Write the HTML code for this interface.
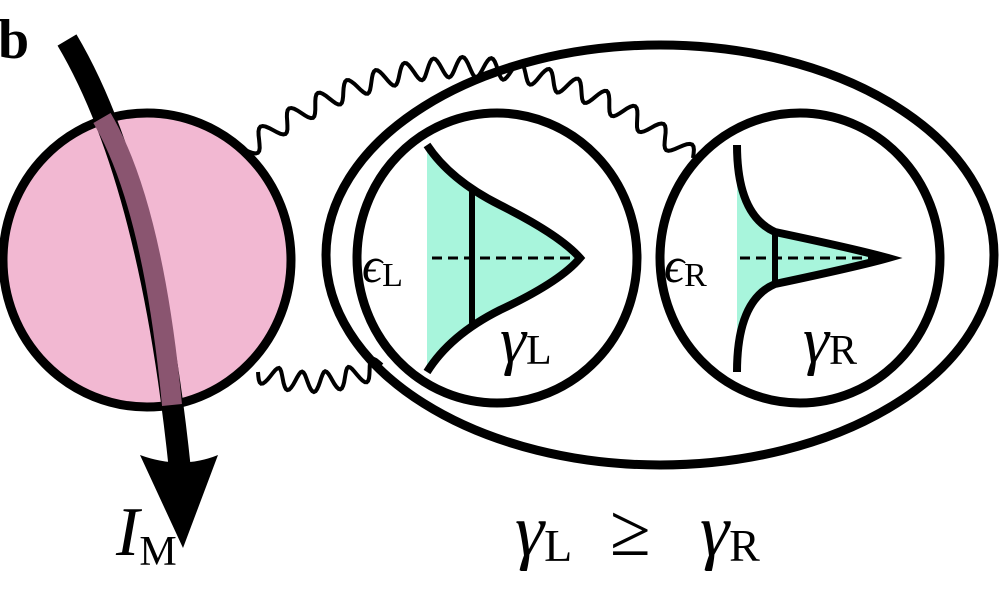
<!DOCTYPE html>
<html><head><style>body{margin:0;background:#fff}svg{display:block}</style></head><body>
<svg id="s" width="1000" height="600" viewBox="0 0 1000 600" xmlns="http://www.w3.org/2000/svg" font-family="Liberation Serif, serif">
<ellipse cx="147" cy="260" rx="144" ry="147" fill="#f2b8d2" stroke="#000" stroke-width="9"/>
<path d="M67,40 Q150,180 180,470" fill="none" stroke="#000" stroke-width="22"/>
<path d="M102,118 Q153,205 172,405" fill="none" stroke="#8a5570" stroke-width="20"/>
<path d="M140,455 Q181,470 218,455 L183,548 Z" fill="#000"/>
<path id="w1" fill="none" stroke="#000" stroke-width="4"/>
<path id="w2" fill="none" stroke="#000" stroke-width="4"/>
<ellipse cx="660" cy="255" rx="334" ry="210" fill="none" stroke="#000" stroke-width="9"/>
<ellipse cx="497" cy="258" rx="140" ry="145" fill="#fff" stroke="#000" stroke-width="9"/>
<ellipse cx="800" cy="258" rx="140" ry="145" fill="#fff" stroke="#000" stroke-width="9"/>
<path d="M427,145 Q450,180 500,205 Q560,235 580,258 Q560,282 500,310 Q450,335 427,372 Z" fill="#a8f5dc"/>
<path d="M427,145 Q450,180 500,205 Q560,235 580,258 Q560,282 500,310 Q450,335 427,372" fill="none" stroke="#000" stroke-width="8"/>
<line x1="472" y1="190" x2="472" y2="326" stroke="#000" stroke-width="6"/>
<line x1="432" y1="258" x2="578" y2="258" stroke="#000" stroke-width="3" stroke-dasharray="10,6"/>
<path d="M737,145 Q737,215 775,232 Q860,250 888,258 Q860,266 775,284 Q737,300 737,372 L737,145 Z" fill="#a8f5dc"/>
<path d="M737,145 Q737,215 775,232 Q860,250 888,258 Q860,266 775,284 Q737,300 737,372" fill="none" stroke="#000" stroke-width="8"/>
<line x1="775" y1="230" x2="775" y2="286" stroke="#000" stroke-width="6"/>
<line x1="740" y1="258" x2="886" y2="258" stroke="#000" stroke-width="3" stroke-dasharray="10,6"/>
<text x="-2" y="58" font-size="56" font-weight="bold">b</text>
<text x="362" y="282" font-size="50" font-style="italic">ϵ<tspan font-size="34" font-style="normal" dy="4">L</tspan></text>
<text x="664" y="282" font-size="50" font-style="italic">ϵ<tspan font-size="34" font-style="normal" dy="4">R</tspan></text>
<text x="500" y="362" font-size="66" font-style="italic">γ<tspan font-size="42" font-style="normal" dy="2">L</tspan></text>
<text x="803" y="362" font-size="66" font-style="italic">γ<tspan font-size="42" font-style="normal" dy="2">R</tspan></text>
<text x="116" y="555" font-size="70" font-style="italic">I<tspan font-size="42" font-style="normal" dy="10">M</tspan></text>
<text x="515" y="555" font-size="74"><tspan font-style="italic">γ</tspan><tspan font-size="46" dy="6">L</tspan><tspan x="610" dy="-6">≥</tspan><tspan x="700" font-style="italic">γ</tspan><tspan font-size="46" dy="6">R</tspan></text>
</svg>
<script>
function wave(id,p0,p1,p2,n,a){
 var d="",N=n*16;
 for(var i=0;i<=N;i++){var t=i/N,u=1-t;
  var x=u*u*p0[0]+2*u*t*p1[0]+t*t*p2[0],y=u*u*p0[1]+2*u*t*p1[1]+t*t*p2[1];
  var dx=2*u*(p1[0]-p0[0])+2*t*(p2[0]-p1[0]),dy=2*u*(p1[1]-p0[1])+2*t*(p2[1]-p1[1]);
  var l=Math.hypot(dx,dy),s=a*Math.sin(t*n*2*Math.PI);
  x+=-dy/l*s;y+=dx/l*s;d+=(i?"L":"M")+x.toFixed(1)+","+y.toFixed(1);}
 document.getElementById(id).setAttribute("d",d);}
wave("w1",[245,150],[470,-20],[693,158],16,10);
wave("w2",[258,372],[320,395],[382,365],5,10);
</script>
</body></html>
